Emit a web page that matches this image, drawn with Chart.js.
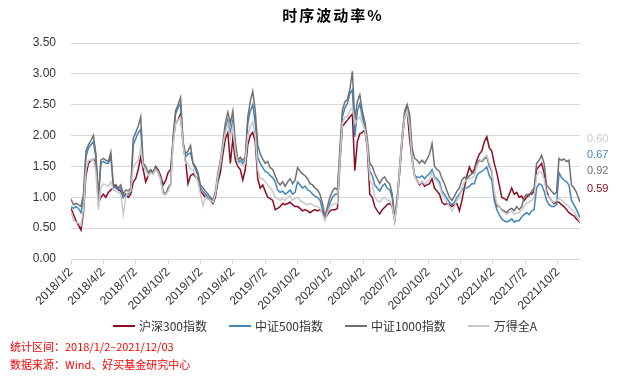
<!DOCTYPE html>
<html>
<head>
<meta charset="utf-8">
<script src="https://cdn.jsdelivr.net/npm/chart.js@4.4.0/dist/chart.umd.min.js"></script>
<style>
html, body { margin: 0; padding: 0; background: #fff; }
</style>
</head>
<body>
<canvas id="chart" width="618" height="377"></canvas>
<script>
const titleText = '时序波动率%';
const noteLines = ['统计区间：2018/1/2–2021/12/03', '数据来源：Wind、好买基金研究中心'];

const seriesNames = ['沪深300指数', '中证500指数', '中证1000指数', '万得全A'];
const seriesColors = ['#8C0C22', '#3F86BF', '#707070', '#C9C9C9'];

const startDate = '2018-01-02';
const endDate = '2021-12-03';

const tickLabels = ['2018/1/2', '2018/4/2', '2018/7/2', '2018/10/2',
  '2019/1/2', '2019/4/2', '2019/7/2', '2019/10/2',
  '2020/1/2', '2020/4/2', '2020/7/2', '2020/10/2',
  '2021/1/2', '2021/4/2', '2021/7/2', '2021/10/2'];

// weekly readings, 2018-01-02 .. 2021-12-03
const hs300 = [
  0.82, 0.72, 0.62, 0.55, 0.47, 0.75, 1.35, 1.55, 1.60, 1.62,
  1.58, 0.90, 1.00, 1.05, 1.00, 1.08, 1.12, 1.15, 1.20, 1.12,
  1.10, 1.00, 1.05, 1.00, 1.05, 1.25, 1.30, 1.45, 1.65, 1.45,
  1.25, 1.35, 1.42, 1.40, 1.50, 1.45, 1.35, 1.20, 1.27, 1.40,
  1.45, 1.90, 2.20, 2.25, 2.35, 1.85, 1.60, 1.22, 1.35, 1.38,
  1.33, 1.30, 1.10, 1.05, 1.00, 0.98, 0.95, 0.90, 1.00, 1.25,
  1.40, 1.70, 1.95, 2.05, 1.55, 1.95, 1.60, 1.50, 1.45, 1.28,
  1.45, 1.85, 2.00, 2.05, 1.90, 1.30, 1.15, 1.20, 1.10, 1.00,
  0.98, 0.95, 0.80, 0.82, 0.85, 0.90, 0.88, 0.90, 0.92, 0.88,
  0.85, 0.85, 0.82, 0.78, 0.80, 0.78, 0.75, 0.78, 0.80, 0.78,
  0.80, 0.75, 0.65, 0.72, 0.78, 0.80, 0.80, 0.82, 1.55, 2.15,
  2.20, 2.25, 2.30, 2.35, 1.43, 1.90, 2.03, 2.05, 2.09, 1.80,
  1.05, 1.00, 0.85, 0.78, 0.73, 0.80, 0.84, 0.88, 0.90, 0.85,
  0.63, 0.92, 1.40, 1.90, 2.30, 2.40, 1.95, 1.60, 1.35, 1.27,
  1.20, 1.25, 1.18, 1.20, 1.22, 1.30, 1.15, 1.10, 1.05, 0.92,
  0.88, 0.90, 0.88, 0.85, 0.88, 0.90, 0.78, 0.95, 1.15, 1.35,
  1.49, 1.40, 1.45, 1.60, 1.70, 1.75, 1.90, 1.98, 1.80, 1.75,
  1.55, 1.40, 1.20, 1.00, 0.98, 0.95, 1.05, 1.15, 1.05, 1.08,
  1.00, 1.02, 0.95, 1.00, 1.05, 1.05, 1.10, 1.45, 1.50, 1.55,
  1.40, 1.10, 1.00, 0.95, 0.90, 0.92, 0.92, 0.88, 0.85, 0.80,
  0.75, 0.72, 0.70, 0.65, 0.59
];
const zz500 = [
  0.85, 0.82, 0.85, 0.82, 0.75, 0.95, 1.65, 1.80, 1.85, 1.90,
  1.65, 0.95, 1.55, 1.58, 1.55, 1.55, 1.65, 1.18, 1.15, 1.12,
  1.15, 1.00, 1.05, 1.05, 1.10, 1.85, 1.95, 2.05, 2.10, 1.50,
  1.45, 1.40, 1.42, 1.38, 1.48, 1.40, 1.30, 1.08, 1.05, 1.12,
  1.20, 1.95, 2.35, 2.45, 2.52, 1.88, 1.65, 1.70, 1.72, 1.55,
  1.45, 1.35, 1.15, 1.10, 1.05, 1.00, 0.98, 0.93, 1.05, 1.30,
  1.50, 1.80, 2.10, 2.25, 2.05, 2.25, 1.80, 1.55, 1.60, 1.55,
  1.60, 2.20, 2.40, 2.50, 2.20, 1.65, 1.55, 1.48, 1.42, 1.40,
  1.35, 1.32, 1.25, 1.12, 1.08, 1.10, 1.05, 1.08, 1.12, 1.05,
  1.08, 1.25, 1.20, 1.15, 1.18, 1.12, 1.10, 1.05, 1.02, 1.00,
  0.95, 0.80, 0.65, 0.78, 0.90, 1.00, 1.05, 1.05, 1.60, 2.30,
  2.45, 2.52, 2.68, 2.74, 1.98, 2.40, 2.52, 2.30, 2.14, 1.85,
  1.42, 1.35, 1.20, 1.15, 1.10, 1.18, 1.22, 1.15, 1.12, 1.00,
  0.64, 0.95, 1.45, 1.95, 2.35, 2.48, 2.25, 1.65, 1.35, 1.33,
  1.32, 1.35, 1.30, 1.35, 1.38, 1.45, 1.33, 1.30, 1.25, 1.10,
  1.05, 0.98, 0.92, 0.88, 0.92, 1.00, 1.05, 1.12, 1.15, 1.15,
  1.18, 1.22, 1.22, 1.35, 1.40, 1.42, 1.45, 1.49, 1.35, 1.28,
  0.95, 0.80, 0.72, 0.65, 0.62, 0.60, 0.62, 0.65, 0.60, 0.62,
  0.62, 0.68, 0.72, 0.75, 0.72, 0.78, 0.80, 1.15, 1.22, 1.20,
  1.10, 0.95, 0.88, 0.85, 0.85, 0.88, 1.40, 1.32, 1.28, 1.25,
  1.20, 0.95, 0.88, 0.80, 0.67
];
const zz1000 = [
  0.97, 0.88, 0.90, 0.88, 0.85, 1.05, 1.75, 1.85, 1.92, 2.00,
  1.70, 1.00, 1.60, 1.63, 1.60, 1.58, 1.73, 1.20, 1.20, 1.15,
  1.20, 1.05, 1.12, 1.10, 1.15, 1.95, 2.05, 2.15, 2.30, 1.55,
  1.50, 1.40, 1.45, 1.40, 1.50, 1.42, 1.30, 1.10, 1.05, 1.15,
  1.22, 1.98, 2.40, 2.50, 2.62, 1.90, 1.70, 1.75, 1.84, 1.55,
  1.50, 1.40, 1.20, 1.15, 1.10, 1.05, 1.00, 0.95, 1.10, 1.40,
  1.60, 1.90, 2.20, 2.38, 2.20, 2.40, 1.90, 1.60, 1.65, 1.60,
  1.65, 2.30, 2.55, 2.72, 2.40, 1.85, 1.70, 1.62, 1.55, 1.58,
  1.48, 1.45, 1.35, 1.25, 1.20, 1.25, 1.18, 1.25, 1.30, 1.22,
  1.28, 1.48, 1.42, 1.38, 1.35, 1.30, 1.22, 1.20, 1.15, 1.12,
  1.05, 0.90, 0.68, 0.85, 1.00, 1.10, 1.15, 1.12, 1.80, 2.41,
  2.55, 2.58, 2.75, 3.04, 2.25, 2.55, 2.66, 2.40, 2.22, 1.95,
  1.55, 1.50, 1.38, 1.30, 1.22, 1.30, 1.33, 1.25, 1.22, 1.05,
  0.65, 1.00, 1.50, 2.00, 2.40, 2.50, 2.35, 1.80, 1.63, 1.60,
  1.55, 1.60, 1.55, 1.62, 1.70, 1.87, 1.50, 1.45, 1.42, 1.30,
  1.22, 1.10, 1.00, 0.95, 1.02, 1.10, 1.15, 1.28, 1.33, 1.30,
  1.35, 1.38, 1.40, 1.55, 1.60, 1.58, 1.62, 1.65, 1.50, 1.42,
  1.00, 0.85, 0.85, 0.80, 0.78, 0.75, 0.80, 0.82, 0.78, 0.85,
  0.80, 0.85, 1.00, 1.05, 1.02, 1.10, 1.15, 1.55, 1.60, 1.68,
  1.55, 1.20, 1.15, 1.10, 1.05, 1.08, 1.63, 1.60, 1.62, 1.58,
  1.60, 1.20, 1.15, 1.08, 0.92
];
const windA = [
  0.78, 0.62, 0.60, 0.58, 0.55, 0.80, 1.45, 1.60, 1.60, 1.62,
  1.40, 0.80, 1.15, 1.22, 1.20, 1.18, 1.25, 1.12, 1.10, 1.08,
  1.05, 0.72, 1.00, 1.08, 1.10, 1.50, 1.55, 1.60, 1.80, 1.50,
  1.45, 1.35, 1.40, 1.38, 1.45, 1.40, 1.28, 1.05, 1.05, 1.10,
  1.20, 1.85, 2.20, 2.25, 2.30, 1.85, 1.55, 1.55, 1.45, 1.45,
  1.35, 1.25, 1.05, 0.86, 1.00, 0.98, 0.95, 0.92, 1.05, 1.35,
  1.55, 1.85, 2.05, 2.20, 1.95, 2.15, 1.75, 1.55, 1.55, 1.50,
  1.55, 2.00, 2.15, 2.22, 2.00, 1.45, 1.30, 1.30, 1.25, 1.20,
  1.15, 1.10, 1.00, 0.98, 0.95, 0.98, 0.95, 1.00, 1.02, 0.95,
  0.98, 1.00, 0.95, 0.92, 0.90, 0.88, 0.90, 0.88, 0.85, 0.85,
  0.82, 0.72, 0.62, 0.75, 0.85, 0.88, 0.90, 0.90, 1.60, 2.20,
  2.30, 2.30, 2.40, 2.45, 2.20, 2.25, 2.30, 2.20, 2.10, 1.85,
  1.28, 1.22, 1.00, 0.95, 0.92, 0.98, 1.00, 0.95, 0.95, 0.85,
  0.62, 0.90, 1.45, 1.95, 2.30, 2.40, 2.15, 1.60, 1.35, 1.25,
  1.22, 1.25, 1.22, 1.25, 1.28, 1.40, 1.30, 1.25, 1.20, 1.05,
  1.00, 0.92, 0.85, 0.78, 0.85, 0.95, 1.00, 1.15, 1.25, 1.28,
  1.30, 1.32, 1.35, 1.50, 1.58, 1.60, 1.65, 1.68, 1.55, 1.45,
  1.10, 0.90, 0.85, 0.78, 0.75, 0.72, 0.75, 0.78, 0.72, 0.75,
  0.75, 0.80, 0.85, 0.90, 0.92, 0.95, 1.00, 1.35, 1.42, 1.40,
  1.30, 1.05, 1.00, 0.95, 0.92, 0.95, 0.98, 0.95, 0.92, 0.88,
  0.85, 0.80, 0.78, 0.70, 0.60
];
const seriesValues = [hs300, zz500, zz1000, windA];

const DAY = 864e5;
function toUTC(s) {
  const p = s.split(/[-\/]/).map(Number);
  return Date.UTC(p[0], p[1] - 1, p[2]);
}
function dayOf(s) {
  return (toUTC(s) - toUTC(startDate)) / DAY;
}

// sample dates: one per week, last one is the end of the period
const dates = [];
for (let k = 0; k < hs300.length - 1; k++) {
  dates.push(new Date(toUTC(startDate) + k * 7 * DAY).toISOString().slice(0, 10));
}
dates.push(endDate);

const cjk = '"Noto Sans CJK SC", "Noto Sans", sans-serif';

const decor = {
  id: 'decor',
  afterDraw(chart) {
    const ctx = chart.ctx;
    ctx.save();

    // title
    ctx.fillStyle = '#000';
    ctx.font = 'bold 15px ' + cjk;
    ctx.textAlign = 'center';
    ctx.textBaseline = 'middle';
    if ('letterSpacing' in ctx) ctx.letterSpacing = '2px';
    ctx.fillText(titleText, 333, 15);
    if ('letterSpacing' in ctx) ctx.letterSpacing = '0px';

    // legend
    ctx.font = '12px ' + cjk;
    ctx.textAlign = 'left';
    const lineW = 22, gap = 4, itemGap = 22;
    const widths = seriesNames.map(n => lineW + gap + ctx.measureText(n).width);
    const total = widths.reduce((a, b) => a + b, 0) + itemGap * (widths.length - 1);
    let x = 325 - total / 2;
    const ly = 326;
    seriesNames.forEach((n, i) => {
      ctx.strokeStyle = seriesColors[i];
      ctx.lineWidth = 2;
      ctx.beginPath();
      ctx.moveTo(x, ly);
      ctx.lineTo(x + lineW, ly);
      ctx.stroke();
      ctx.fillStyle = '#333';
      ctx.fillText(n, x + lineW + gap, ly);
      x += widths[i] + itemGap;
    });

    // last values, stacked at the right
    const labelOrder = [3, 1, 2, 0];
    const labelY = [139, 155, 171, 189];
    ctx.font = '11px "Liberation Sans", Arial, sans-serif';
    labelOrder.forEach((si, j) => {
      const vals = seriesValues[si];
      ctx.fillStyle = seriesColors[si];
      ctx.fillText(vals[vals.length - 1].toFixed(2), 587, labelY[j]);
    });

    // notes
    ctx.fillStyle = '#FF0000';
    ctx.font = '11px ' + cjk;
    ctx.fillText(noteLines[0], 10, 347);
    ctx.fillText(noteLines[1], 10, 365);

    ctx.restore();
  }
};

new Chart(document.getElementById('chart'), {
  type: 'line',
  data: {
    datasets: seriesNames.map((name, i) => ({
      label: name,
      data: seriesValues[i].map((v, j) => ({ x: dayOf(dates[j]), y: v })),
      borderColor: seriesColors[i],
      backgroundColor: seriesColors[i],
      borderWidth: 1.5,
      pointRadius: 0,
      tension: 0,
      order: seriesNames.length - i
    }))
  },
  options: {
    responsive: false,
    animation: false,
    devicePixelRatio: 1,
    layout: { padding: { left: 32, right: 38, top: 43, bottom: 0 } },
    plugins: {
      legend: { display: false },
      title: { display: false },
      tooltip: { enabled: false }
    },
    scales: {
      x: {
        type: 'linear',
        min: 0,
        max: dayOf(endDate),
        afterBuildTicks: scale => {
          scale.ticks = tickLabels.map(t => ({ value: dayOf(t) }));
        },
        afterFit: scale => { scale.height = 118; },
        grid: { drawOnChartArea: false, drawTicks: true, tickLength: 5, color: '#D9D9D9' },
        border: { display: true, color: '#D9D9D9' },
        ticks: {
          autoSkip: false,
          minRotation: 45,
          maxRotation: 45,
          padding: 1,
          color: '#333',
          font: { size: 12, family: '"Liberation Sans", Arial, sans-serif' },
          callback: (v, i) => tickLabels[i]
        }
      },
      y: {
        min: 0,
        max: 3.5,
        afterFit: scale => { scale.width = 39; },
        grid: { color: '#D9D9D9', drawTicks: false },
        border: { display: false },
        ticks: {
          stepSize: 0.5,
          padding: 15,
          color: '#333',
          font: { size: 12, family: '"Liberation Sans", Arial, sans-serif' },
          callback: v => v.toFixed(2)
        }
      }
    }
  },
  plugins: [decor]
});
</script>
</body>
</html>
